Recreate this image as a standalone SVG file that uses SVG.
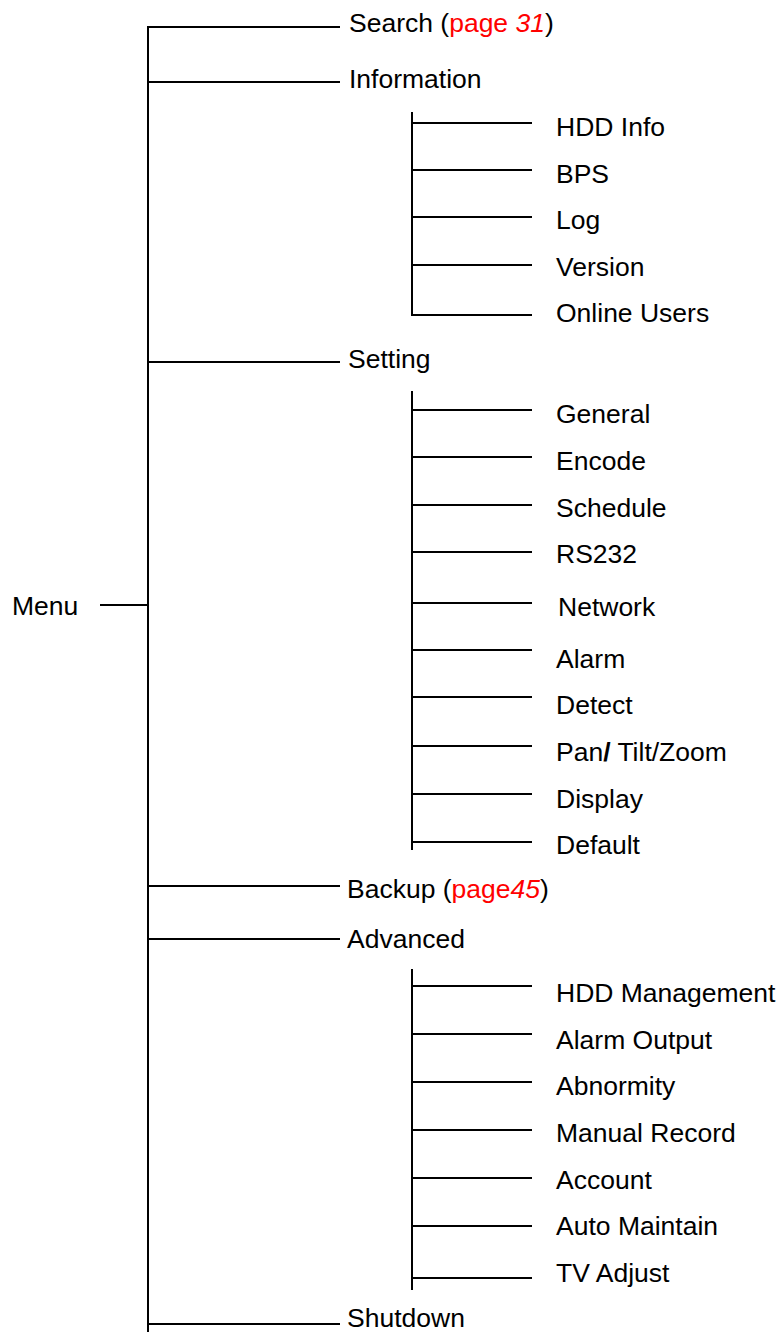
<svg xmlns="http://www.w3.org/2000/svg" width="782" height="1332" viewBox="0 0 782 1332">
<style>
text{font-family:"Liberation Sans",Arial,sans-serif;font-size:26.5px;fill:#000}
.r{fill:#ff0000}
.c line{stroke:#000;stroke-width:2}
</style>
<rect width="782" height="1332" fill="#fff"/>
<g class="c" id="connectors">
<line x1="148" y1="26" x2="148" y2="1332"/>
<line x1="100" y1="605" x2="148" y2="605"/>
<line x1="148" y1="27" x2="340" y2="27"/>
<line x1="148" y1="82" x2="340" y2="82"/>
<line x1="148" y1="362" x2="340" y2="362"/>
<line x1="148" y1="886" x2="340" y2="886"/>
<line x1="148" y1="939" x2="340" y2="939"/>
<line x1="148" y1="1324" x2="340" y2="1324"/>
<line x1="412" y1="112" x2="412" y2="316"/>
<line x1="412" y1="123" x2="532" y2="123"/>
<line x1="412" y1="170" x2="532" y2="170"/>
<line x1="412" y1="217" x2="532" y2="217"/>
<line x1="412" y1="265" x2="532" y2="265"/>
<line x1="412" y1="315" x2="532" y2="315"/>
<line x1="412" y1="391" x2="412" y2="850"/>
<line x1="412" y1="410" x2="532" y2="410"/>
<line x1="412" y1="457" x2="532" y2="457"/>
<line x1="412" y1="505" x2="532" y2="505"/>
<line x1="412" y1="552" x2="532" y2="552"/>
<line x1="412" y1="603" x2="532" y2="603"/>
<line x1="412" y1="650" x2="532" y2="650"/>
<line x1="412" y1="697" x2="532" y2="697"/>
<line x1="412" y1="746" x2="532" y2="746"/>
<line x1="412" y1="794" x2="532" y2="794"/>
<line x1="412" y1="842" x2="532" y2="842"/>
<line x1="412" y1="969" x2="412" y2="1290"/>
<line x1="412" y1="986" x2="532" y2="986"/>
<line x1="412" y1="1034" x2="532" y2="1034"/>
<line x1="412" y1="1082" x2="532" y2="1082"/>
<line x1="412" y1="1130" x2="532" y2="1130"/>
<line x1="412" y1="1178" x2="532" y2="1178"/>
<line x1="412" y1="1226" x2="532" y2="1226"/>
<line x1="412" y1="1278" x2="532" y2="1278"/>
</g>
<g id="menu"><text x="12" y="615">Menu</text></g>
<g id="search"><text x="349" y="32">Search (<tspan class="r">page <tspan font-style="italic">31</tspan></tspan>)</text></g>
<g id="information"><text x="349" y="88">Information</text></g>
<g id="hdd-info"><text x="556" y="136">HDD Info</text></g>
<g id="bps"><text x="556" y="183">BPS</text></g>
<g id="log"><text x="556" y="229">Log</text></g>
<g id="version"><text x="556" y="276">Version</text></g>
<g id="online-users"><text x="556" y="322">Online Users</text></g>
<g id="setting"><text x="348" y="368">Setting</text></g>
<g id="general"><text x="556" y="423">General</text></g>
<g id="encode"><text x="556" y="470">Encode</text></g>
<g id="schedule"><text x="556" y="517">Schedule</text></g>
<g id="rs232"><text x="556" y="563">RS232</text></g>
<g id="network"><text x="558" y="616">Network</text></g>
<g id="alarm"><text x="556" y="668">Alarm</text></g>
<g id="detect"><text x="556" y="714">Detect</text></g>
<g id="ptz"><text x="556" y="761">Pan<tspan font-weight="bold">/</tspan> Tilt/Zoom</text></g>
<g id="display"><text x="556" y="808">Display</text></g>
<g id="default"><text x="556" y="854">Default</text></g>
<g id="backup"><text x="347" y="898">Backup (<tspan class="r">page<tspan font-style="italic">45</tspan></tspan>)</text></g>
<g id="advanced"><text x="347" y="948">Advanced</text></g>
<g id="hdd-management"><text x="556" y="1002">HDD Management</text></g>
<g id="alarm-output"><text x="556" y="1049">Alarm Output</text></g>
<g id="abnormity"><text x="556" y="1095">Abnormity</text></g>
<g id="manual-record"><text x="556" y="1142">Manual Record</text></g>
<g id="account"><text x="556" y="1189">Account</text></g>
<g id="auto-maintain"><text x="556" y="1235">Auto Maintain</text></g>
<g id="tv-adjust"><text x="556" y="1282">TV Adjust</text></g>
<g id="shutdown"><text x="347" y="1327">Shutdown</text></g>
</svg>
